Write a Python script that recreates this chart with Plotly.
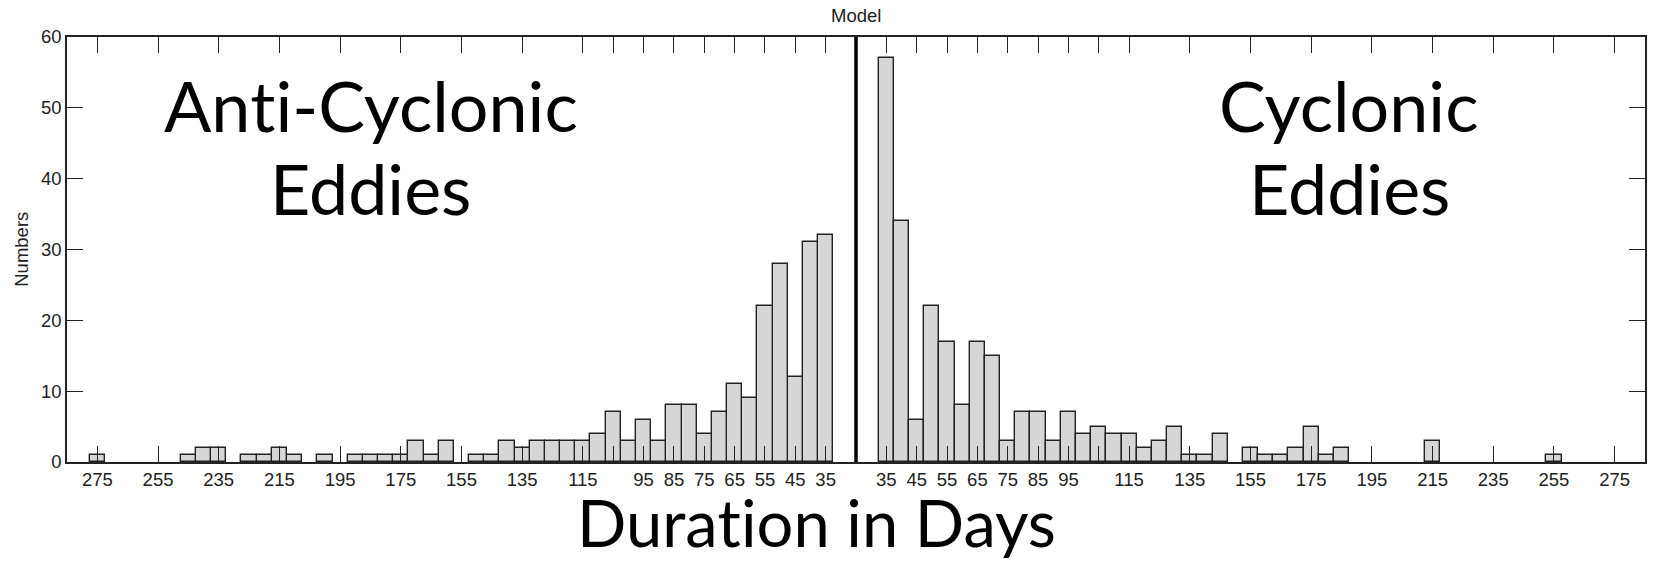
import plotly.graph_objects as go

# ---------------- data ----------------
# Anti-cyclonic eddies (left half), duration bin centre (days) -> count
anti_days = [35, 40, 45, 50, 55, 60, 65, 70, 75, 80, 85, 90, 95, 100, 105, 110,
             115, 120, 125, 130, 135, 140, 145, 150, 160, 165, 170, 175, 180,
             185, 190, 200, 210, 215, 220, 225, 235, 240, 245, 275]
anti_counts = [32, 31, 12, 28, 22, 9, 11, 7, 4, 8, 8, 3, 6, 3, 7, 4,
               3, 3, 3, 3, 2, 3, 1, 1, 3, 1, 3, 1, 1,
               1, 1, 1, 1, 2, 1, 1, 2, 2, 1, 1]

# Cyclonic eddies (right half)
cyc_days = [35, 40, 45, 50, 55, 60, 65, 70, 75, 80, 85, 90, 95, 100, 105, 110,
            115, 120, 125, 130, 135, 140, 145, 155, 160, 165, 170, 175, 180,
            185, 215, 255]
cyc_counts = [57, 34, 6, 22, 17, 8, 17, 15, 3, 7, 7, 3, 7, 4, 5, 4,
              4, 2, 3, 5, 1, 1, 4, 2, 1, 1, 2, 5, 1,
              2, 3, 1]

tick_days = [35, 45, 55, 65, 75, 85, 95, 105, 115, 135, 155, 175, 195, 215, 235, 255, 275]
tick_labels = ["35", "45", "55", "65", "75", "85", "95", "", "115", "135", "155",
               "175", "195", "215", "235", "255", "275"]

y_ticks = [0, 10, 20, 30, 40, 50, 60]

# the two halves mirror around a common origin (25 days)
ORIGIN = 25
anti_x = [-(d - ORIGIN) for d in anti_days]
cyc_x = [(d - ORIGIN) for d in cyc_days]
tickvals = [-(d - ORIGIN) for d in tick_days] + [(d - ORIGIN) for d in tick_days]
ticktext = tick_labels + tick_labels

BAR_FILL = "#d6d6d6"
EDGE = "#222222"

fig = go.Figure()
for xs, ys in ((anti_x, anti_counts), (cyc_x, cyc_counts)):
    fig.add_trace(go.Bar(
        x=xs, y=ys, width=5,
        marker=dict(color=BAR_FILL, line=dict(color=EDGE, width=1.4)),
        showlegend=False, hoverinfo="skip",
    ))

fig.add_vline(x=0, line=dict(color="black", width=3.5))

axis_font = dict(family="Liberation Sans, Arial, Helvetica, sans-serif", size=18.5, color="#222")
big_font = dict(family="Lato, sans-serif", size=70, color="black")
title_font = dict(family="Lato, sans-serif", size=65, color="black")


def no_lig(text, size):
    # wrap each 't' followed by 'i' in its own run so the 'ti' ligature is not formed
    return text.replace("ti", "<span style='font-size:%.2fpx'>t</span>i" % (size + 0.01))


fig.update_layout(
    width=1653, height=564,
    margin=dict(l=67, r=6, t=37, b=102),
    paper_bgcolor="white", plot_bgcolor="white",
    bargap=0,
    xaxis=dict(
        range=[-260, 260], tickmode="array", tickvals=tickvals, ticktext=ticktext,
        ticks="inside", ticklen=16, tickwidth=1.3, tickcolor="#222",
        showline=True, linecolor="#222", linewidth=1.5, mirror="ticks",
        showgrid=False, zeroline=False, tickfont=axis_font,
    ),
    yaxis=dict(
        range=[0, 60], tickmode="array", tickvals=y_ticks,
        ticks="inside", ticklen=16, tickwidth=1.3, tickcolor="#222",
        showline=True, linecolor="#222", linewidth=1.5, mirror="ticks",
        showgrid=False, zeroline=False, tickfont=axis_font,
    ),
    annotations=[
        dict(text="Model", xref="paper", yref="paper", x=0.5, y=1.0506,
             showarrow=False, font=axis_font, xanchor="center", yanchor="middle"),
        dict(text="Numbers", xref="paper", yref="paper", x=-0.0290, y=0.5,
             textangle=-90, showarrow=False, font=axis_font,
             xanchor="center", yanchor="middle"),
        dict(text=no_lig("Anti-Cyclonic", 70), xref="paper", yref="paper", x=0.1924, y=0.84,
             showarrow=False, font=big_font, xanchor="center", yanchor="middle"),
        dict(text="Eddies", xref="paper", yref="paper", x=0.1924, y=0.645,
             showarrow=False, font=big_font, xanchor="center", yanchor="middle"),
        dict(text="Cyclonic", xref="paper", yref="paper", x=0.8127, y=0.84,
             showarrow=False, font=big_font, xanchor="center", yanchor="middle"),
        dict(text="Eddies", xref="paper", yref="paper", x=0.8127, y=0.645,
             showarrow=False, font=big_font, xanchor="center", yanchor="middle"),
        dict(text=no_lig("Duration in Days", 65), xref="paper", yref="paper", x=0.4747, y=-0.142,
             showarrow=False, font=title_font, xanchor="center", yanchor="middle"),
    ],
)

fig.write_html("out.html")
